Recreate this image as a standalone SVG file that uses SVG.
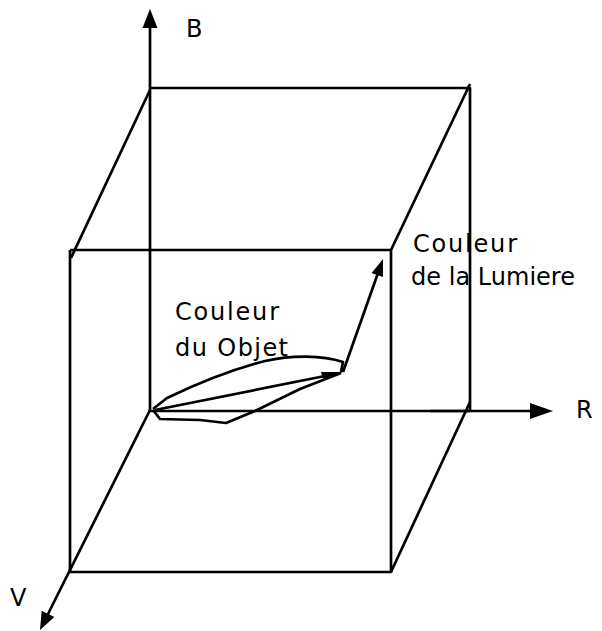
<svg xmlns="http://www.w3.org/2000/svg" width="602" height="631" viewBox="0 0 602 631">
<style>
.ln{fill:none;stroke:#000;stroke-width:2.7;stroke-linejoin:round;stroke-linecap:butt}
.ah{fill:#000;stroke:none}
.tx{font-family:"DejaVu Sans","Liberation Sans",sans-serif;font-size:24px;fill:#000}
</style>
<rect width="602" height="631" fill="#fff"/>
<g id="cube">
<polyline class="ln" points="150,88 470,88 470,411"/>
<polyline class="ln" points="70,250 391,250 391,572 70,572 70,250"/>
<line class="ln" x1="150" y1="90" x2="71" y2="258"/>
<line class="ln" x1="391" y1="250" x2="470" y2="84"/>
<line class="ln" x1="391" y1="572" x2="470" y2="402"/>
<line class="ln" x1="430" y1="411" x2="470" y2="411" stroke-width="4.5"/>
</g>
<g id="axis-B">
<line class="ln" x1="150" y1="411" x2="150" y2="26"/>
<polygon class="ah" points="150,9 157.5,28 142.5,28"/>
<text class="tx" x="186" y="37">B</text>
</g>
<g id="axis-R">
<line class="ln" x1="150" y1="411" x2="533" y2="411"/>
<polygon class="ah" points="553,411 530,403 530,419"/>
<text class="tx" x="576" y="418">R</text>
</g>
<g id="axis-V">
<line class="ln" x1="150" y1="410" x2="47" y2="616"/>
<polygon class="ah" points="40,630 54.3,617.1 41.7,610.8"/>
<text class="tx" x="10" y="606">V</text>
</g>
<g id="object">
<path class="ln" d="M153,409 L167,398 C190,387 230,370 265,361 C292,355 322,355 343,362 L341,372"/>
<path class="ln" d="M153,410 L160,419 L200,420 L226,423 L255,411 L300,389 L341,373"/>
<line class="ln" x1="155" y1="410" x2="325" y2="376"/>
<polygon class="ah" points="343,372 321,372 323,379"/>
<text class="tx" x="175" y="320" textLength="104" lengthAdjust="spacing">Couleur</text>
<text class="tx" x="175" y="356" textLength="113" lengthAdjust="spacing">du Objet</text>
</g>
<g id="light">
<line class="ln" x1="343" y1="372" x2="378" y2="273"/>
<polygon class="ah" points="383,259 383,277 371.6,273"/>
<text class="tx" x="413" y="252" textLength="104" lengthAdjust="spacing">Couleur</text>
<text class="tx" x="411" y="285" textLength="164" lengthAdjust="spacing">de la Lumiere</text>
</g>
</svg>
